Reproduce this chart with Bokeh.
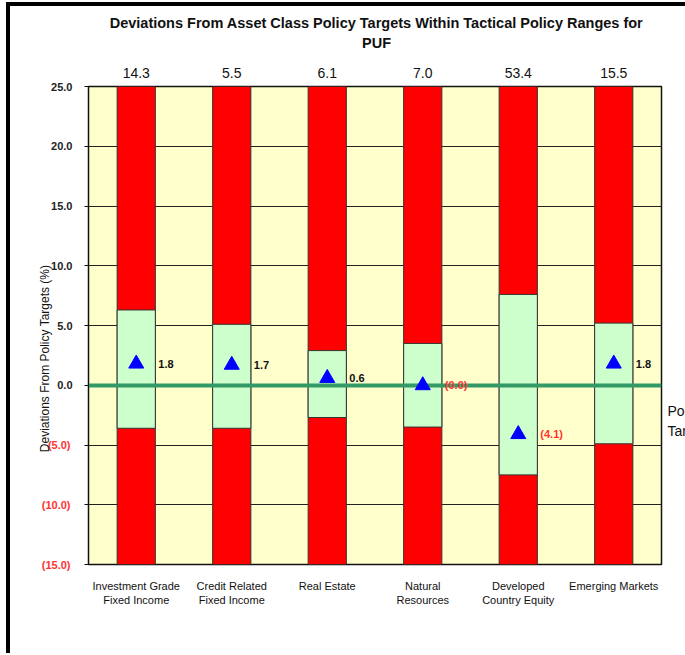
import math
from bokeh.plotting import figure
from bokeh.models import (ColumnDataSource, LabelSet, Label, FixedTicker, Range1d, LinearAxis,
                          NumeralTickFormatter)
from bokeh.core.properties import value
from bokeh.embed import file_html
from bokeh.resources import INLINE

# ---- data ----
categories = ["Investment Grade\nFixed Income", "Credit Related\nFixed Income", "Real Estate",
              "Natural\nResources", "Developed\nCountry Equity", "Emerging Markets"]
policy_targets = [14.3, 5.5, 6.1, 7.0, 53.4, 15.5]
range_high = [6.3, 5.1, 2.9, 3.5, 7.6, 5.2]
range_low = [-3.6, -3.6, -2.7, -3.5, -7.5, -4.9]
deviations = [1.8, 1.7, 0.6, -0.01, -4.1, 1.8]
y_ticks_pos = [0, 5, 10, 15, 20, 25]
y_ticks_neg = [-15, -10, -5]
y_min, y_max = -15, 25
title_lines = ["Deviations From Asset Class Policy Targets Within Tactical Policy Ranges for", "PUF"]
y_title = "Deviations From Policy Targets (%)"
legend_lines = ["Policy", "Target"]


def fmt(v):
    return f"({abs(v):.1f})" if v < 0 else f"{v:.1f}"


NEG = "#FF3333"
FONT = "Liberation Sans"
n = len(categories)
xs = [i + 0.5 for i in range(n)]
bar_w = 0.4

src = ColumnDataSource(dict(
    x=xs,
    xr=[x + bar_w / 2 for x in xs],
    hi=range_high,
    lo=range_low,
    dev=deviations,
    dev_txt=[fmt(v) for v in deviations],
    dev_col=[NEG if v < 0 else "#111111" for v in deviations],
    top=[y_max] * n,
    bottom=[y_min] * n,
))

# canvas starts right of / below a thick black page border (left and top)
p = figure(frame_width=573, frame_height=478,
           min_border_left=78, min_border_right=23, min_border_top=80, min_border_bottom=89,
           x_range=Range1d(0, n), y_range=Range1d(y_min, y_max),
           output_backend="svg", toolbar_location=None, title=None)
p.styles = {"margin-left": "6px", "margin-top": "2px",
            "border-left": "4px solid black", "border-top": "4px solid black"}

p.background_fill_color = "#FFFFCC"
p.border_fill_color = "white"
p.outline_line_color = "#111111"
p.outline_line_width = 1.5

p.xgrid.visible = False
p.ygrid.ticker = FixedTicker(ticks=y_ticks_neg + y_ticks_pos)
p.ygrid.grid_line_color = "#222222"
p.ygrid.grid_line_width = 1

# inner y axis: all ticks, labels for non-negative values in black
ya = p.yaxis[0]
ya.ticker = FixedTicker(ticks=y_ticks_neg + y_ticks_pos)
ya.formatter = NumeralTickFormatter(format="0.0")
ya.major_label_overrides = {v: "" for v in y_ticks_neg}
ya.major_tick_out = 4
ya.major_tick_in = 0
ya.minor_tick_line_color = None
ya.axis_line_color = "#111111"
ya.major_tick_line_color = "#111111"
ya.major_label_standoff = 12
ya.major_label_text_font = FONT
ya.major_label_text_font_style = "bold"
ya.major_label_text_font_size = "11px"
ya.major_label_text_color = "#222222"

# outer y axis: negative values in red, pulled back over the inner axis' label column
yn = LinearAxis(ticker=FixedTicker(ticks=y_ticks_neg),
                formatter=NumeralTickFormatter(format="(0.0)"))
yn.major_tick_out = 0
yn.major_tick_in = 0
yn.major_tick_line_color = None
yn.minor_tick_line_color = None
yn.axis_line_color = None
yn.major_label_standoff = -22
yn.major_label_text_font = FONT
yn.major_label_text_font_style = "bold"
yn.major_label_text_font_size = "11px"
yn.major_label_text_color = NEG
p.add_layout(yn, "left")

# y axis title (placed in the left panel so that it is not clipped to the frame)
p.add_layout(Label(x=30, y=348, x_units="canvas", y_units="canvas", text=y_title,
                   angle=math.pi / 2, text_font=FONT, text_font_size="12px",
                   text_color="#111111", text_align="center", text_baseline="middle"), "left")

# x axis (categories)
xa = p.xaxis[0]
xa.ticker = FixedTicker(ticks=xs)
xa.major_label_overrides = {x: c for x, c in zip(xs, categories)}
xa.major_tick_out = 0
xa.major_tick_in = 0
xa.minor_tick_line_color = None
xa.axis_line_color = None
xa.major_label_standoff = 15
xa.major_label_text_font = FONT
xa.major_label_text_font_size = "11px"
xa.major_label_text_color = "#111111"

# policy target values above the bars
ta = LinearAxis(ticker=FixedTicker(ticks=xs))
ta.major_label_overrides = {x: f"{v:.1f}" for x, v in zip(xs, policy_targets)}
ta.major_tick_out = 0
ta.major_tick_in = 0
ta.minor_tick_line_color = None
ta.axis_line_color = None
ta.major_label_standoff = 9
ta.major_label_text_font = FONT
ta.major_label_text_font_size = "14px"
ta.major_label_text_color = "#111111"
p.add_layout(ta, "above")

# title (two lines, centred over the plot frame)
for line, cy in zip(title_lines, [12, 32]):
    p.add_layout(Label(x=362, y=cy, x_units="canvas", y_units="canvas", text=line,
                       text_font=FONT, text_font_style="bold", text_font_size="14.5px",
                       text_color="#111111", text_align="center", text_baseline="middle"),
                 "above")

# bars: out-of-range (red) and tactical range (green)
p.vbar(x="x", width=bar_w, top="top", bottom="bottom", source=src,
       fill_color="#FF0000", line_color="#333333", line_width=1)
p.vbar(x="x", width=bar_w, top="hi", bottom="lo", source=src,
       fill_color="#CCFFCC", line_color="#333333", line_width=1)

# policy target line
p.hspan(y=[0], line_color="#339966", line_width=4)

# actual deviations
p.scatter(x="x", y="dev", source=src, marker="triangle", size=15,
          fill_color="#0000FF", line_color="#0000FF")

p.add_layout(LabelSet(x="xr", y="dev", text="dev_txt", source=src, x_offset=3,
                      text_color="dev_col", text_font=value(FONT), text_font_style="bold",
                      text_font_size="11px", text_align="left", text_baseline="middle"))

# legend (cut by the right edge, as in the original)
for line, cy in zip(legend_lines, [400, 420]):
    p.add_layout(Label(x=653, y=cy, x_units="canvas", y_units="canvas", text=line,
                       text_font=FONT, text_font_size="14px", text_color="#111111",
                       text_align="left", text_baseline="middle"), "right")

open("out.html", "w").write(file_html(p, INLINE))
